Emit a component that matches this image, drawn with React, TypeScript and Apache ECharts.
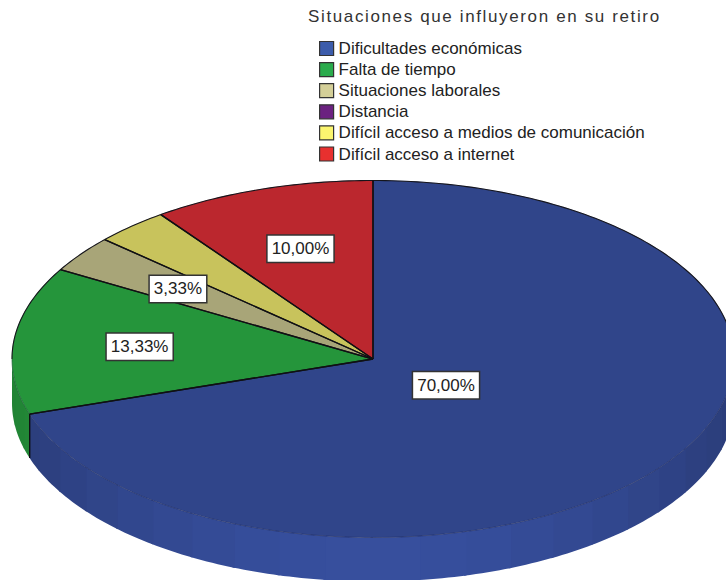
import React, { useEffect, useRef } from "react";
import * as echarts from "echarts";

const titleText = "Situaciones que influyeron en su retiro";
const categories = [
  "Dificultades económicas",
  "Falta de tiempo",
  "Situaciones laborales",
  "Distancia",
  "Difícil acceso a medios de comunicación",
  "Difícil acceso a internet",
];
const shares = [70, 13.33, 3.33, 0, 3.33, 10];
const labels = ["70,00%", "13,33%", "3,33%", "", "", "10,00%"];
const legendColors = ["#3c5cab", "#2aab4c", "#d4cf98", "#6b2180", "#fbf56f", "#e8302f"];
const topColors = ["#30458a", "#25953b", "#a8a578", "#5a1c6c", "#c8c35c", "#bb272e"];

const CX = 373;
const CY = 359;
const RX = 361;
const RY = 178.5;
const DEPTH = 44;
const BAND = 7.5;
const FONT = "'Liberation Sans', Arial, sans-serif";

const total = shares.reduce((a, b) => a + b, 0);
const rad = (d: number) => (d * Math.PI) / 180;
const px = (deg: number) => CX + RX * Math.sin(rad(deg));
const py = (deg: number) => CY - RY * Math.cos(rad(deg));

const arcPoints = (from: number, to: number, dy = 0) => {
  const pts: number[][] = [];
  const n = Math.max(1, Math.ceil((to - from) / 1));
  for (let i = 0; i <= n; i++) {
    const a = from + ((to - from) * i) / n;
    pts.push([px(a), py(a) + dy]);
  }
  return pts;
};

const shade = (hex: string, f: number) => {
  const n = parseInt(hex.slice(1), 16);
  const c = [(n >> 16) & 255, (n >> 8) & 255, n & 255].map((v) => Math.min(255, Math.round(v * f)));
  return `rgb(${c[0]},${c[1]},${c[2]})`;
};

const labelReach = (share: number) => (share > 50 ? 0.25 : share < 5 ? 0.668 : 0.65);

const sliceRenderer = (index: number) => (_params: any, api: any) => {
  const value = api.value(0);
  if (!value) return { type: "group", children: [] };
  const before = shares.slice(0, index).reduce((a, b) => a + b, 0);
  const start = (before / total) * 360;
  const end = start + (value / total) * 360;
  const color = topColors[index];
  const children: any[] = [];

  // side wall: front half of the ellipse only, in shaded bands that overlap slightly
  const wallFrom = Math.max(start, 90);
  const wallTo = Math.min(end, 270);
  if (wallTo > wallFrom) {
    const first = Math.floor(wallFrom / BAND) * BAND;
    for (let b = first; b < wallTo; b += BAND) {
      const a0 = Math.max(b, wallFrom);
      const a1 = Math.min(b + BAND + 0.4, wallTo);
      const mid = (b + BAND / 2 - 180) * (Math.PI / 180);
      const f = 0.88 + 0.26 * Math.cos(mid) * Math.cos(mid);
      children.push({
        type: "polygon",
        z2: 1,
        shape: { points: [...arcPoints(a0, a1), ...arcPoints(a0, a1, DEPTH).reverse()] },
        style: { fill: shade(color, f) },
      });
    }
  }

  // top face
  children.push({
    type: "polygon",
    z2: 5,
    shape: { points: [[CX, CY], ...arcPoints(start, end)] },
    style: { fill: color, stroke: color, lineWidth: 0.4 },
  });

  // rims
  const upperA = start < 90 ? [start, Math.min(end, 90)] : null;
  const upperB = end > 270 ? [Math.max(start, 270), end] : null;
  [upperA, upperB].forEach((r) => {
    if (!r) return;
    children.push({
      type: "polyline",
      z2: 8,
      shape: { points: arcPoints(r[0], r[1]) },
      style: { fill: "none", stroke: "#15151c", lineWidth: 1.1 },
    });
  });
  if (wallTo > wallFrom) {
    children.push({
      type: "polyline",
      z2: 7,
      shape: { points: arcPoints(wallFrom, wallTo) },
      style: { fill: "none", stroke: "rgba(15,20,50,0.3)", lineWidth: 1 },
    });
  }

  // radial edges
  [start, end].forEach((a) => {
    children.push({
      type: "line",
      z2: 9,
      shape: { x1: CX, y1: CY, x2: px(a), y2: py(a) },
      style: { stroke: "#101014", lineWidth: 1.3 },
    });
    if (a > 90 && a < 270) {
      children.push({
        type: "line",
        z2: 9,
        shape: { x1: px(a), y1: py(a), x2: px(a), y2: py(a) + DEPTH },
        style: { stroke: "#101014", lineWidth: 1.2 },
      });
    }
  });

  // value label
  if (labels[index]) {
    const mid = (start + end) / 2;
    const reach = labelReach(value);
    children.push({
      type: "text",
      z2: 20,
      x: CX + RX * reach * Math.sin(rad(mid)),
      y: CY - RY * reach * Math.cos(rad(mid)),
      style: {
        text: labels[index],
        fontFamily: FONT,
        fontSize: 17,
        fill: "#222",
        align: "center",
        verticalAlign: "middle",
        backgroundColor: "#fff",
        borderColor: "#333",
        borderWidth: 1.5,
        padding: [5, 4, 4, 4],
      },
    });
  }
  return { type: "group", children };
};

export default function App() {
  const ref = useRef<HTMLDivElement>(null);
  useEffect(() => {
    const chart = echarts.init(ref.current!, null, { renderer: "svg" });
    chart.setOption({
      animation: false,
      backgroundColor: "#fff",
      title: {
        text: titleText,
        left: 308,
        top: 8,
        padding: 0,
        textStyle: { fontFamily: FONT, fontSize: 17, fontWeight: "normal", color: "#333" },
      },
      legend: {
        orient: "vertical",
        left: 319,
        top: 40,
        padding: 0,
        icon: "rect",
        itemWidth: 14,
        itemHeight: 14,
        itemGap: 4.1,
        selectedMode: false,
        data: categories,
        itemStyle: { borderColor: "#333", borderWidth: 1.2 },
        textStyle: { fontFamily: FONT, fontSize: 17, color: "#222" },
      },
      series: categories.map((name, i) => ({
        type: "custom",
        name,
        coordinateSystem: "none",
        silent: true,
        itemStyle: { color: legendColors[i] },
        data: [[shares[i]]],
        renderItem: sliceRenderer(i),
      })),
    });
    ref.current!.querySelectorAll("text").forEach((t) => {
      if (t.textContent === titleText) (t as any).style.letterSpacing = "1.63px";
    });
    return () => chart.dispose();
  }, []);
  return <div ref={ref} style={{ position: "absolute", left: 0, top: 0, width: 726, height: 580 }} />;
}
